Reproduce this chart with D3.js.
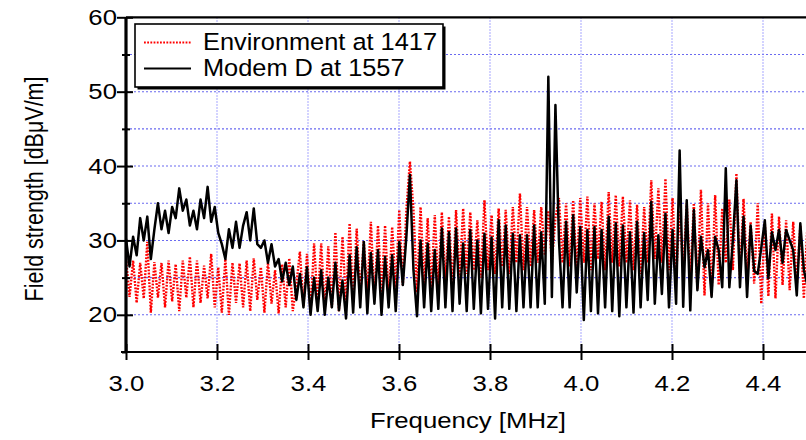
<!DOCTYPE html>
<html>
<head>
<meta charset="utf-8">
<script src="https://cdn.jsdelivr.net/npm/d3@7"></script>
<style>
  html, body { margin: 0; padding: 0; background: #fff; }
  svg { display: block; }
  text { font-family: "Liberation Sans", Arial, Helvetica, sans-serif; fill: #000; }
</style>
</head>
<body>
<svg id="chart" width="806" height="440"></svg>
<script>
// ---------------- data ----------------
const freqStart = 3.0;      // MHz, first sample
const freqStep = 0.0078;    // MHz, sample spacing

const modemD = [
  30.2, 26.5, 30.5, 28, 33, 30, 33.2, 27.5, 31.5, 35,
  31.5, 34, 31, 34.5, 33, 37, 34, 35.5, 32, 34,
  31.5, 35.5, 33, 37.2, 32.5, 34.5, 31, 29.5, 27.5, 31.5,
  29, 32.5, 29, 32, 33.8, 30, 34.3, 29.5, 29, 30,
  27, 29.5, 26.5, 27.5, 24.5, 27, 24, 26.5, 22, 25.5,
  21, 26.4, 20, 25, 20.5, 26, 20, 25, 21, 27,
  20.6, 24.6, 19.5, 28, 20.3, 29.1, 21, 29.8, 20.2, 28.3,
  21.5, 28.7, 20, 27.8, 21, 28, 20.5, 29.8, 24, 30.5,
  38.8, 26, 19.8, 30, 21, 29.6, 20.5, 28.7, 20.8, 31.6,
  21, 31.1, 20.5, 31.6, 21.5, 29.6, 20.5, 31.4, 20.8, 30,
  20.2, 30.9, 20.8, 30.4, 19.5, 32.7, 21, 32, 20.8, 30.9,
  20.5, 30.7, 21, 30.7, 21, 32, 21, 31.1, 21.5, 52,
  22.4, 48.2, 30, 21, 32.5, 21, 33.4, 23, 31.8, 19.3,
  31.4, 20.5, 31.8, 20.2, 31.4, 21, 33.2, 20.5, 32.3, 19.8,
  32, 21, 31.1, 20.3, 32.5, 21, 31, 22, 35.2, 21.5,
  30.7, 22.8, 33.6, 21, 31.4, 21.5, 42.1, 21.1, 35.4, 20.6,
  34.1, 23.3, 30.5, 26.4, 28.7, 22.4, 30.5, 28.7, 23.7, 39.7,
  23.7, 30, 38.1, 23.7, 33.2, 22.4, 32, 25.9, 25.5, 29,
  32.7, 24.9, 31.1, 28.7, 31.4, 27, 31.4, 30, 28.7, 22.6,
  32.3, 26, 24
];

const environment = [
  27.6, 22.4, 27.3, 21.6, 27, 22.2, 29.8, 20.3, 27.1, 22.3,
  27, 21, 27.3, 21.8, 26.8, 20.5, 27.3, 22.3, 27.8, 21,
  27.3, 21.6, 26.6, 22.2, 28.2, 21, 26.4, 20.3, 27.5, 20,
  27, 21.6, 26.9, 21, 27.3, 20.5, 27.6, 22, 26.4, 20.3,
  27, 21.5, 26, 20.2, 26.8, 21, 27.6, 20.5, 24, 28.5,
  21.2, 28.2, 20.3, 29.6, 21.5, 29.6, 20.8, 29.2, 21, 31.1,
  20.5, 30.5, 21.5, 32.3, 22, 31.6, 22.5, 30, 23, 32.5,
  22, 32, 23, 32, 22, 31.8, 23.5, 34.1, 24, 34.1,
  40.6, 34.1, 23, 34.5, 24, 33, 23.5, 33.4, 24, 33.8,
  24.5, 33.2, 23.5, 34.1, 25, 34.3, 25.5, 33.8, 26, 32.7,
  25, 35.4, 26, 33.4, 25.5, 34.3, 26.5, 34.1, 25.5, 34.5,
  27, 36.3, 26, 34.5, 26.5, 34.1, 27, 34.5, 28, 34,
  27, 33, 35.7, 27, 35, 26.5, 35.4, 26, 35.7, 27,
  35.9, 26, 35, 27.5, 35.2, 26, 36.5, 27, 36.1, 26.5,
  35.9, 27, 35.4, 26, 34.8, 25.5, 34.5, 27, 38.1, 27.5,
  37, 27, 38.3, 26, 35.7, 25, 34, 26, 35, 24.6,
  35, 23.5, 36.8, 22.6, 35, 22.6, 36.1, 24, 34.3, 27,
  35.5, 26, 39, 25, 35.6, 25.5, 32.5, 24.2, 35, 21.5,
  32.3, 22.5, 33.6, 22.2, 33.2, 24, 32.7, 23.3, 32.5, 24,
  32, 22.2, 32
];

const seriesNames = ["Environment at 1417", "Modem D at 1557"];
const xTicks = [3.0, 3.2, 3.4, 3.6, 3.8, 4.0, 4.2, 4.4];
const yMajorTicks = [20, 30, 40, 50, 60];
const yMinorTicks = [15, 25, 35, 45, 55];
const yGrid = [20, 25, 30, 35, 40, 45, 50, 55];
const xDomain = [3.0, 4.5];
const yDomain = [15, 60];

// ---------------- layout ----------------
const svg = d3.select("#chart");
const pL = 126, pR = 808.5, pT = 17.3, pB = 352;
const x = d3.scaleLinear().domain(xDomain).range([pL, pR]);
const y = d3.scaleLinear().domain(yDomain).range([pB, pT]);

const envData = environment.map((v, i) => ({ f: freqStart + i * freqStep, v }));
const modData = modemD.map((v, i) => ({ f: freqStart + i * freqStep, v }));

svg.append("defs").append("clipPath").attr("id", "plotclip")
  .append("rect").attr("x", pL).attr("y", pT).attr("width", pR - pL).attr("height", pB - pT);

// grid
const grid = svg.append("g");
grid.selectAll("line.h").data(yGrid).join("line")
  .attr("x1", pL).attr("x2", pR)
  .attr("y1", d => y(d)).attr("y2", d => y(d))
  .attr("stroke", "#6a6af0").attr("stroke-width", 1.1).attr("stroke-dasharray", "2,2");
grid.selectAll("line.v").data(xTicks.slice(1)).join("line")
  .attr("x1", d => x(d)).attr("x2", d => x(d))
  .attr("y1", pT).attr("y2", pB)
  .attr("stroke", "#9494ff").attr("stroke-width", 1.1).attr("stroke-dasharray", "1.5,1.5");

// lines
const line = d3.line().x(d => x(d.f)).y(d => y(d.v));
const plot = svg.append("g").attr("clip-path", "url(#plotclip)");
plot.append("path").datum(envData).attr("d", line)
  .attr("fill", "none").attr("stroke", "#ff0000").attr("stroke-width", 2.4)
  .attr("stroke-dasharray", "1.8,1.4");
plot.append("path").datum(modData).attr("d", line)
  .attr("fill", "none").attr("stroke", "#000").attr("stroke-width", 2.5)
  .attr("stroke-linejoin", "round");

// frame top
svg.append("line").attr("x1", pL).attr("x2", pR).attr("y1", pT).attr("y2", pT)
  .attr("stroke", "#000").attr("stroke-width", 2.2);

// axes
const sx = 1.17;
const xAxisOut = d3.axisBottom(x).tickValues(xTicks).tickSizeInner(8).tickSizeOuter(0)
  .tickPadding(15).tickFormat(d3.format(".1f"));
const gx = svg.append("g").attr("transform", `translate(0,${pB})`).call(xAxisOut);
gx.append("g").call(d3.axisBottom(x).tickValues(xTicks).tickSizeInner(-8).tickSizeOuter(0).tickFormat(""));
gx.selectAll("path.domain").attr("stroke-width", 2.2).attr("d", `M${pL - 5},0H${pR}`);
gx.selectAll(".tick line").attr("stroke-width", 2);
gx.selectAll("text").attr("font-size", 22).attr("font-family", '"Liberation Sans", Arial, sans-serif')
  .attr("transform", `scale(${sx},1)`);

const gy = svg.append("g").attr("transform", `translate(${pL},0)`);
gy.call(d3.axisLeft(y).tickValues(yMajorTicks).tickSizeInner(9).tickSizeOuter(0).tickPadding(0)
  .tickFormat(d3.format("d")));
gy.append("g").call(d3.axisLeft(y).tickValues(yMajorTicks).tickSizeInner(-7).tickSizeOuter(0).tickFormat(""));
gy.append("g").call(d3.axisLeft(y).tickValues(yMinorTicks).tickSizeInner(4).tickSizeOuter(0).tickFormat(""));
gy.append("g").call(d3.axisLeft(y).tickValues(yMinorTicks.slice(1)).tickSizeInner(-4).tickSizeOuter(0).tickFormat(""));
gy.selectAll("path.domain").attr("stroke-width", 2.4).attr("d", `M0,${pT}V${pB}`);
gy.selectAll(".tick line").attr("stroke-width", 2);
gy.selectAll("text").attr("font-size", 22).attr("font-family", '"Liberation Sans", Arial, sans-serif')
  .attr("x", -9 / sx).attr("transform", `scale(${sx},1)`);

// axis titles
svg.append("text").attr("transform", `translate(468,428) scale(1.12,1)`)
  .attr("text-anchor", "middle").attr("font-size", 23).text("Frequency [MHz]");
svg.append("text").attr("transform", `translate(43,189) rotate(-90) scale(1,1.2)`)
  .attr("text-anchor", "middle").attr("font-size", 21.5).text("Field strength [dBμV/m]");

// legend
const lg = svg.append("g");
lg.append("rect").attr("x", 137.5).attr("y", 26.5).attr("width", 308).attr("height", 63).attr("fill", "#000");
lg.append("rect").attr("x", 135).attr("y", 24).attr("width", 308).attr("height", 63)
  .attr("fill", "#fff").attr("stroke", "#000").attr("stroke-width", 1.6);
const legendRows = [
  { name: seriesNames[0], color: "#ff0000", dash: "1.8,1.4", yy: 42.5, ty: 49.5 },
  { name: seriesNames[1], color: "#000", dash: null, yy: 68.5, ty: 76 }
];
legendRows.forEach(r => {
  lg.append("line").attr("x1", 144).attr("x2", 191).attr("y1", r.yy).attr("y2", r.yy)
    .attr("stroke", r.color).attr("stroke-width", 2).attr("stroke-dasharray", r.dash);
  lg.append("text").attr("transform", `translate(203,${r.ty}) scale(1.08,1)`)
    .attr("font-size", 23.5).text(r.name);
});
</script>
</body>
</html>
